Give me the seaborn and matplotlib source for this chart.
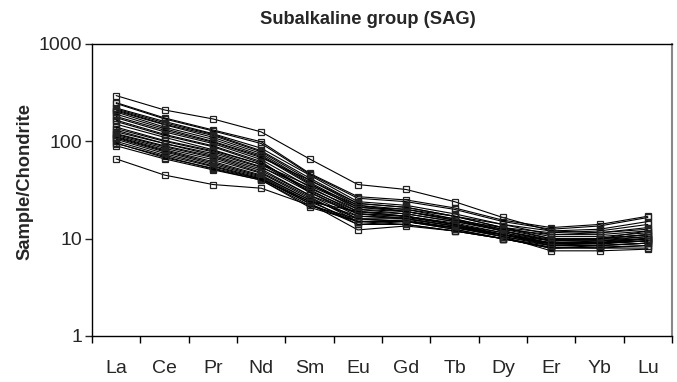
import matplotlib
matplotlib.use("Agg")
import matplotlib.pyplot as plt
import seaborn as sns
import pandas as pd
from matplotlib.ticker import FixedLocator, NullLocator

elements = ["La", "Ce", "Pr", "Nd", "Sm", "Eu", "Gd", "Tb", "Dy", "Er", "Yb", "Lu"]

s01 = [295, 210, 170, 125, 66, 36, 32, 24, 16.5, 12, 11.5, 12.5]
s02 = [66, 45, 36, 33, 22, 15, 15, 13, 11, 9, 9, 10]
s03 = [220, 160, 120, 85, 45, 24, 22, 18, 14, 11, 11, 12]
s04 = [215, 155, 118, 80, 42, 23, 21, 17, 13, 10.5, 10.5, 11.5]
s05 = [210, 150, 115, 78, 40, 22, 20, 17, 13, 10, 10, 11]
s06 = [205, 148, 110, 75, 38, 21, 20, 16, 12.5, 10, 9.8, 10.5]
s07 = [200, 140, 105, 72, 37, 20, 19, 16, 12, 9.5, 9.5, 10]
s08 = [190, 135, 100, 70, 36, 22, 19, 15.5, 12, 9.8, 10, 11]
s09 = [175, 125, 95, 65, 34, 19, 18, 15, 12, 9.5, 9.5, 10]
s10 = [160, 115, 88, 60, 32, 18, 17, 14.5, 11.5, 9, 9, 9.5]
s11 = [150, 110, 82, 58, 31, 19, 17, 14, 11, 9, 9.2, 10]
s12 = [135, 100, 78, 55, 30, 17, 16.5, 14, 11, 8.8, 8.8, 9.5]
s13 = [125, 95, 72, 52, 28, 16, 16, 13.5, 11, 8.5, 8.5, 9]
s14 = [120, 90, 70, 50, 28, 18, 17, 14, 11.5, 9.5, 10, 11]
s15 = [118, 88, 68, 48, 27, 15, 15.5, 13, 10.5, 8.5, 8.5, 9]
s16 = [115, 85, 65, 47, 26, 16, 15, 13, 10.5, 8.8, 9, 10]
s17 = [112, 82, 62, 45, 25, 14, 15, 12.5, 10, 8, 8.2, 8.5]
s18 = [110, 80, 60, 44, 25, 17, 16, 13.5, 11, 9, 9.5, 10.5]
s19 = [108, 78, 58, 43, 24, 15, 15, 12.5, 10, 8.2, 8, 8.5]
s20 = [105, 75, 56, 42, 23, 14, 14, 12, 10, 8, 8, 8]
s21 = [100, 72, 55, 41, 23, 12.3, 13.5, 12, 10, 8, 8.5, 9]
s22 = [95, 70, 52, 40, 22, 16, 15, 13, 11, 9.5, 10, 12]
s23 = [90, 66, 51, 40, 21, 15, 14, 12, 10, 8.5, 9, 9.5]
s24 = [130, 95, 75, 54, 33, 20, 18, 15, 12.5, 11, 11.5, 13]
s25 = [140, 102, 80, 58, 35, 21, 19, 15.5, 13, 11.5, 12, 14]
s26 = [180, 130, 98, 68, 40, 23, 21, 17, 14, 12, 12.5, 15]
s27 = [245, 170, 128, 95, 46, 26, 24, 20, 15, 12.5, 13.5, 16.5]
s28 = [250, 174, 131, 99, 47, 27, 25, 20.7, 15.5, 13, 14, 17]
s29 = [165, 118, 90, 62, 30, 18, 16, 13.5, 10.5, 7.5, 7.5, 7.8]
s30 = [96, 68, 53, 41, 24, 19, 17, 14, 11, 9, 9, 9.5]

samples = [s01, s02, s03, s04, s05, s06, s07, s08, s09, s10, s11, s12, s13, s14, s15,
           s16, s17, s18, s19, s20, s21, s22, s23, s24, s25, s26, s27, s28, s29, s30]

yticks = [1, 10, 100, 1000]
ytick_labels = ["1", "10", "100", "1000"]

rows = []
for i, s in enumerate(samples):
    for j, v in enumerate(s):
        rows.append({"sample": i, "pos": j, "value": v})
df = pd.DataFrame(rows)

sns.set_style("ticks")
plt.rcParams["font.family"] = ["Liberation Sans", "DejaVu Sans"]

fig = plt.figure(figsize=(6.77, 3.82), dpi=100)
ax = fig.add_axes([92 / 677, 1 - 336 / 382, (672 - 92) / 677, (336 - 44) / 382])

sns.lineplot(data=df, x="pos", y="value", units="sample", estimator=None, sort=False,
             color="black", linewidth=0.8, marker="s", markersize=5,
             markerfacecolor="none", markeredgecolor="#222222", markeredgewidth=0.9,
             legend=False, ax=ax)

ax.set_yscale("log")
ax.set_ylim(1, 1000)
ax.yaxis.set_major_locator(FixedLocator(yticks))
ax.set_yticklabels(ytick_labels)
ax.yaxis.set_minor_locator(NullLocator())

ax.set_xlim(-0.5, len(elements) - 0.5)
ax.set_xticks(range(len(elements)))
ax.set_xticklabels(elements)
ax.set_xticks([k - 0.5 for k in range(len(elements) + 1)], minor=True)
ax.tick_params(axis="x", which="major", length=0, pad=17, labelsize=14)
ax.tick_params(axis="x", which="minor", length=5, width=1, color="black")
ax.tick_params(axis="y", which="major", length=5, width=1, labelsize=14, pad=2)

ax.set_xlabel("")
ax.set_ylabel("")
for sp in ax.spines.values():
    sp.set_visible(True)
    sp.set_color("black")
    sp.set_linewidth(1.0)
ax.spines["right"].set_color("#888888")
ax.spines["right"].set_linewidth(1.5)

fig.text(368 / 677, 1 - 20 / 382, "Subalkaline group (SAG)", ha="center", va="center",
         fontsize=13.2, fontweight="bold")
fig.text(25 / 677, 1 - 182 / 382, "Sample/Chondrite", ha="center", va="center",
         rotation=90, fontsize=13.2, fontweight="bold")

fig.savefig("out.png", dpi=100)
